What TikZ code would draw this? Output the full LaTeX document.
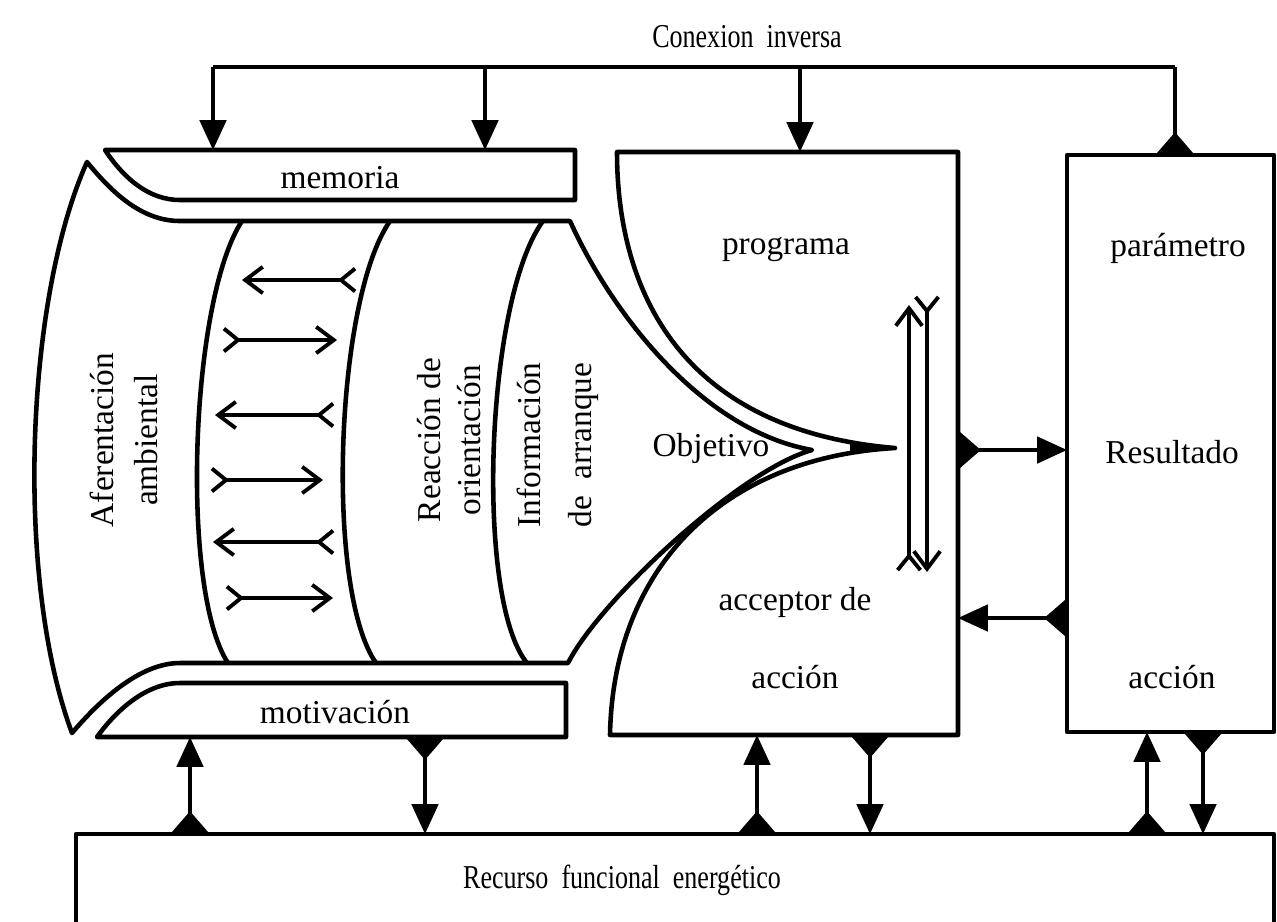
\documentclass[tikz,border=0pt]{standalone}
\usepackage{fontspec}
\setmainfont{Liberation Serif}
\usetikzlibrary{arrows.meta}
\begin{document}
\begin{tikzpicture}[x=0.02cm,y=-0.02cm,
  outline/.style={line width=2.6pt, line join=round},
  lbl/.style={font=\fontsize{19}{23}\selectfont, inner sep=0pt},
  flow/.style={line width=2.1pt, -{hd}},
  src/.style={line width=2.1pt, {ft}-{hd}},
  plain/.style={line width=2.1pt},
  twoway/.style={line width=2.2pt, {bt}-{bh}},
  hd/.tip={Triangle[width=15pt,length=17pt]},
  ft/.tip={Triangle[reversed,width=22pt,length=13pt]},
  bh/.tip={Straight Barb[length=10pt,width=15pt]},
  bt/.tip={Straight Barb[reversed,length=8pt,width=13pt]}]
\useasboundingbox (0,0) rectangle (1277,921);
\fill[white] (0,0) rectangle (1277,921);
\clip (0,0) rectangle (1277,921);

% ---------- shapes ----------
% memoria box
\draw[outline] (105,150) -- (575,150) -- (575,200) -- (180,200)
   .. controls (150,200) and (125,180) .. (105,150) -- cycle;
% motivacion box
\draw[outline] (97,737) -- (566,737) -- (566,683) -- (180,683)
   .. controls (145,683) and (115,712) .. (97,737) -- cycle;
% central shape
\draw[outline] (87,162) .. controls (110,190) and (140,221) .. (180,221)
   -- (570,221) .. controls (610,310) and (700,430) .. (812,450)
   .. controls (740,470) and (600,600) .. (568,663)
   -- (180,663) .. controls (140,663) and (100,700) .. (72,733)
   .. controls (15,580) and (25,300) .. (87,162) -- cycle;
% inner arcs
\draw[outline] (242,221) .. controls (190,300) and (180,590) .. (228,663);
\draw[outline] (390,221) .. controls (335,300) and (325,590) .. (376,663);
\draw[outline] (543,221) .. controls (485,300) and (475,600) .. (527,663);
% programa / acceptor box
\draw[outline] (617,152) -- (958,152) -- (958,735) -- (610,735)
   .. controls (613,570) and (720,458) .. (895,448)
   .. controls (680,430) and (617,290) .. (617,152) -- cycle;
\fill (850,444) -- (895,447) -- (895,449) -- (850,452) -- cycle;
% resultado box
\draw[outline] (1067,155) -- (1274,155) -- (1274,732) -- (1067,732) -- cycle;
% recurso box
\draw[outline] (76,930) -- (76,834) -- (1274,834) -- (1274,930);

% ---------- anchor coordinates ----------
\coordinate (c1) at (213,67);
\coordinate (c2) at (485,67);
\coordinate (c3) at (800,67);
\coordinate (c4) at (1175,67);
\coordinate (memA) at (213,150);
\coordinate (memB) at (485,150);
\coordinate (progT) at (800,152);
\coordinate (resT) at (1175,155);
\coordinate (progR1) at (958,450);
\coordinate (resL1) at (1067,450);
\coordinate (progR2) at (958,618);
\coordinate (resL2) at (1067,618);
\coordinate (motB1) at (190,737);
\coordinate (recT1) at (190,834);
\coordinate (motB2) at (425,737);
\coordinate (recT2) at (425,834);
\coordinate (progB1) at (757,735);
\coordinate (recT3) at (757,834);
\coordinate (progB2) at (870,735);
\coordinate (recT4) at (870,834);
\coordinate (resB1) at (1147,732);
\coordinate (recT5) at (1147,834);
\coordinate (resB2) at (1203,732);
\coordinate (recT6) at (1203,834);

% ---------- feedback connectors ----------
\draw[line width=2.1pt, {ft}-] (resT) -- (c4);
\draw[plain] (c4) -- (c1);
\draw[flow] (c1) -- (memA);
\draw[flow] (c2) -- (memB);
\draw[flow] (c3) -- (progT);

% ---------- programa <-> resultado ----------
\draw[src] (progR1) -- (resL1);
\draw[src] (resL2) -- (progR2);

% ---------- energy connectors ----------
\draw[src] (recT1) -- (motB1);
\draw[src] (motB2) -- (recT2);
\draw[src] (recT3) -- (progB1);
\draw[src] (progB2) -- (recT4);
\draw[src] (recT5) -- (resB1);
\draw[src] (resB2) -- (recT6);

% ---------- internal two-way arrows ----------
\coordinate (a1r) at (357,280); \coordinate (a1l) at (242,280);
\coordinate (a2l) at (222,340); \coordinate (a2r) at (337,340);
\coordinate (a3r) at (335,415); \coordinate (a3l) at (215,415);
\coordinate (a4l) at (210,480); \coordinate (a4r) at (323,480);
\coordinate (a5r) at (335,542); \coordinate (a5l) at (213,542);
\coordinate (a6l) at (225,598); \coordinate (a6r) at (333,598);
\draw[twoway] (a1r) -- (a1l);
\draw[twoway] (a2l) -- (a2r);
\draw[twoway] (a3r) -- (a3l);
\draw[twoway] (a4l) -- (a4r);
\draw[twoway] (a5r) -- (a5l);
\draw[twoway] (a6l) -- (a6r);
\coordinate (v1b) at (909,572); \coordinate (v1t) at (909,305);
\coordinate (v2t) at (927,295); \coordinate (v2b) at (927,572);
\draw[twoway] (v1b) -- (v1t);
\draw[twoway] (v2t) -- (v2b);

% ---------- labels ----------
\node[lbl] (tconex) at (747,37) {\scalebox{0.78}[1]{Conexion\ \ inversa}};
\node[lbl] (tmem) at (340,178) {memoria};
\node[lbl] (tmot) at (335,712) {motivación};
\node[lbl, rotate=90, align=center] (taf) at (124,440) {Aferentación\\[2.5pt]ambiental};
\node[lbl, rotate=90, align=center] (treac) at (449,440) {Reacción de\\orientación};
\node[lbl, rotate=90, align=center] (tinf) at (558,445) {Información\\[6pt]de\ \ arranque};
\node[lbl] (tprog) at (786,250) {programa};
\node[lbl] (tobj) at (711,448) {Objetivo};
\node[lbl] (tacc1) at (795,602) {acceptor de};
\node[lbl] (tacc2) at (795,677) {acción};
\node[lbl] (tpar) at (1178,248) {parámetro};
\node[lbl] (tres) at (1172,452) {Resultado};
\node[lbl] (tacc3) at (1172,677) {acción};
\node[lbl] (trec) at (622,880) {\scalebox{0.78}[1]{Recurso\ \ funcional\ \ energético}};
\end{tikzpicture}
\end{document}
